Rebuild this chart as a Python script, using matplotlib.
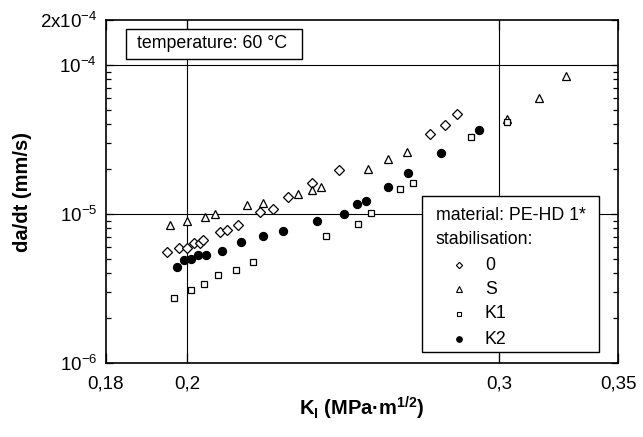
import matplotlib
matplotlib.use("Agg")
import matplotlib.pyplot as plt
from matplotlib.patches import Rectangle
from matplotlib.ticker import FixedLocator, FixedFormatter, NullLocator, LogLocator

plt.rcParams['font.family'] = ['Liberation Sans', 'DejaVu Sans']
plt.rcParams['mathtext.fontset'] = 'custom'
plt.rcParams['mathtext.rm'] = 'Liberation Sans'
plt.rcParams['mathtext.it'] = 'Liberation Sans:italic'
plt.rcParams['mathtext.bf'] = 'Liberation Sans:bold'

# ---- data (K_I in MPa*m^1/2, da/dt in mm/s) ----
k_0 = [0.1948, 0.1979, 0.2000, 0.2018, 0.2034, 0.2041, 0.2087, 0.2105, 0.2136,
       0.2199, 0.2237, 0.2281, 0.2351, 0.2436, 0.2741, 0.2794, 0.2838]
v_0 = [5.54e-6, 5.93e-6, 5.89e-6, 6.36e-6, 6.41e-6, 6.71e-6, 7.51e-6, 7.80e-6, 8.49e-6,
       1.03e-5, 1.085e-5, 1.29e-5, 1.62e-5, 1.97e-5, 3.45e-5, 3.97e-5, 4.69e-5]

k_S = [0.1956, 0.1999, 0.2046, 0.2074, 0.2161, 0.2206, 0.2310, 0.2351, 0.2380,
       0.2530, 0.2597, 0.2660, 0.3030, 0.3159, 0.3271]
v_S = [8.45e-6, 8.98e-6, 9.51e-6, 1.00e-5, 1.143e-5, 1.18e-5, 1.36e-5, 1.44e-5, 1.52e-5,
       2.00e-5, 2.32e-5, 2.62e-5, 4.32e-5, 6.00e-5, 8.36e-5]

k_K1 = [0.1965, 0.2010, 0.2044, 0.2083, 0.2130, 0.2179, 0.2396, 0.2496, 0.2539,
        0.2637, 0.2683, 0.2892, 0.3031]
v_K1 = [2.74e-6, 3.07e-6, 3.41e-6, 3.88e-6, 4.23e-6, 4.75e-6, 7.06e-6, 8.51e-6, 1.02e-5,
        1.46e-5, 1.61e-5, 3.28e-5, 4.12e-5]

k_K2 = [0.1973, 0.1991, 0.2011, 0.2029, 0.2049, 0.2093, 0.2146, 0.2206, 0.2264,
        0.2368, 0.2451, 0.2495, 0.2523, 0.2596, 0.2664, 0.2782, 0.2923]
v_K2 = [4.43e-6, 4.88e-6, 5.01e-6, 5.30e-6, 5.31e-6, 5.68e-6, 6.44e-6, 7.10e-6, 7.74e-6,
        8.98e-6, 1.00e-5, 1.16e-5, 1.23e-5, 1.51e-5, 1.89e-5, 2.58e-5, 3.65e-5]

x_ticks = [0.18, 0.2, 0.3, 0.35]
x_tick_labels = ["0,18", "0,2", "0,3", "0,35"]
y_ticks = [1e-6, 1e-5, 1e-4, 2e-4]
y_tick_labels = [r"$10^{-6}$", r"$10^{-5}$", r"$10^{-4}$", r"2x$10^{-4}$"]
series_labels = ["0", "S", "K1", "K2"]

# ---- figure ----
W, H = 643, 437
fig = plt.figure(figsize=(W / 100, H / 100), dpi=100)
L, R, T, B = 106, 618, 20, 363
ax = fig.add_axes([L / W, 1 - B / H, (R - L) / W, (B - T) / H])
ax.set_xscale('log')
ax.set_yscale('log')
ax.set_xlim(0.18, 0.35)
ax.set_ylim(1e-6, 2e-4)

# grid lines
for gx in [0.2, 0.3]:
    ax.axvline(gx, color='black', lw=0.8, zorder=1)
for gy in [1e-5, 1e-4]:
    ax.axhline(gy, color='black', lw=0.8, zorder=1)

ms_kw = dict(linestyle='none', markeredgecolor='black', markeredgewidth=0.9, zorder=3)
ax.plot(k_0, v_0, marker='D', markersize=4.8, markerfacecolor='white', **ms_kw)
ax.plot(k_S, v_S, marker='^', markersize=6.4, markerfacecolor='white', **ms_kw)
ax.plot(k_K1, v_K1, marker='s', markersize=4.8, markerfacecolor='white', **ms_kw)
ax.plot(k_K2, v_K2, marker='o', markersize=5.8, markerfacecolor='black', **ms_kw)

# ticks
ax.xaxis.set_major_locator(FixedLocator(x_ticks))
ax.xaxis.set_major_formatter(FixedFormatter(x_tick_labels))
ax.xaxis.set_minor_locator(NullLocator())
ax.yaxis.set_major_locator(FixedLocator(y_ticks))
ax.yaxis.set_major_formatter(FixedFormatter(y_tick_labels))
ax.yaxis.set_minor_locator(LogLocator(base=10, subs=[2, 3, 4, 5, 6, 7, 8, 9]))
ax.tick_params(which='both', direction='in', top=True, right=True, labelsize=13.5)
ax.tick_params(axis='x', which='major', length=7, width=0.9, pad=9)
ax.tick_params(axis='y', which='major', length=5, width=0.9, pad=6.5)
ax.tick_params(axis='y', which='minor', length=3.5, width=0.9)
for s in ax.spines.values():
    s.set_linewidth(1.2)

ax.set_xlabel(r"K$_{\mathbf{I}}$ (MPa·m$^{\mathbf{1/2}}$)", fontsize=14.5, fontweight='bold')
ax.xaxis.set_label_coords(0.5, (B - 395) / (B - T))
ax.set_ylabel("da/dt (mm/s)", fontsize=14.5, fontweight='bold')
ax.yaxis.set_label_coords((32 - L) / (R - L), 0.5)

def fx(px):
    return (px - L) / (R - L)

def fy(py):
    return (B - py) / (B - T)

# temperature box
ax.add_patch(Rectangle((fx(126), fy(59)), fx(302) - fx(126), fy(29) - fy(59),
                       transform=ax.transAxes, facecolor='white', edgecolor='black',
                       lw=1.0, zorder=4))
ax.text(fx(137), fy(44), "temperature: 60 °C", transform=ax.transAxes,
        fontsize=12.8, ha='left', va='center', zorder=5)

# legend box
ax.add_patch(Rectangle((fx(422), fy(352)), fx(599) - fx(422), fy(196) - fy(352),
                       transform=ax.transAxes, facecolor='white', edgecolor='black',
                       lw=1.0, zorder=4))
ax.text(fx(436), fy(215), "material: PE-HD 1*", transform=ax.transAxes,
        fontsize=12.8, ha='left', va='center', zorder=5)
ax.text(fx(436), fy(240), "stabilisation:", transform=ax.transAxes,
        fontsize=12.8, ha='left', va='center', zorder=5)
leg_markers = [('D', 3.2, 'white'), ('^', 4.2, 'white'), ('s', 3.2, 'white'), ('o', 4.0, 'black')]
rows_y = [265, 289, 314, 339]
for (m, sz, fc), lab, ry in zip(leg_markers, series_labels, rows_y):
    ax.plot([fx(459)], [fy(ry)], transform=ax.transAxes, marker=m, markersize=sz,
            markerfacecolor=fc, markeredgecolor='black', markeredgewidth=0.8,
            linestyle='none', zorder=6, clip_on=False)
    ax.text(fx(485), fy(ry), lab, transform=ax.transAxes, fontsize=12.8,
            ha='left', va='center', zorder=5)

fig.savefig("out.png", dpi=100)
